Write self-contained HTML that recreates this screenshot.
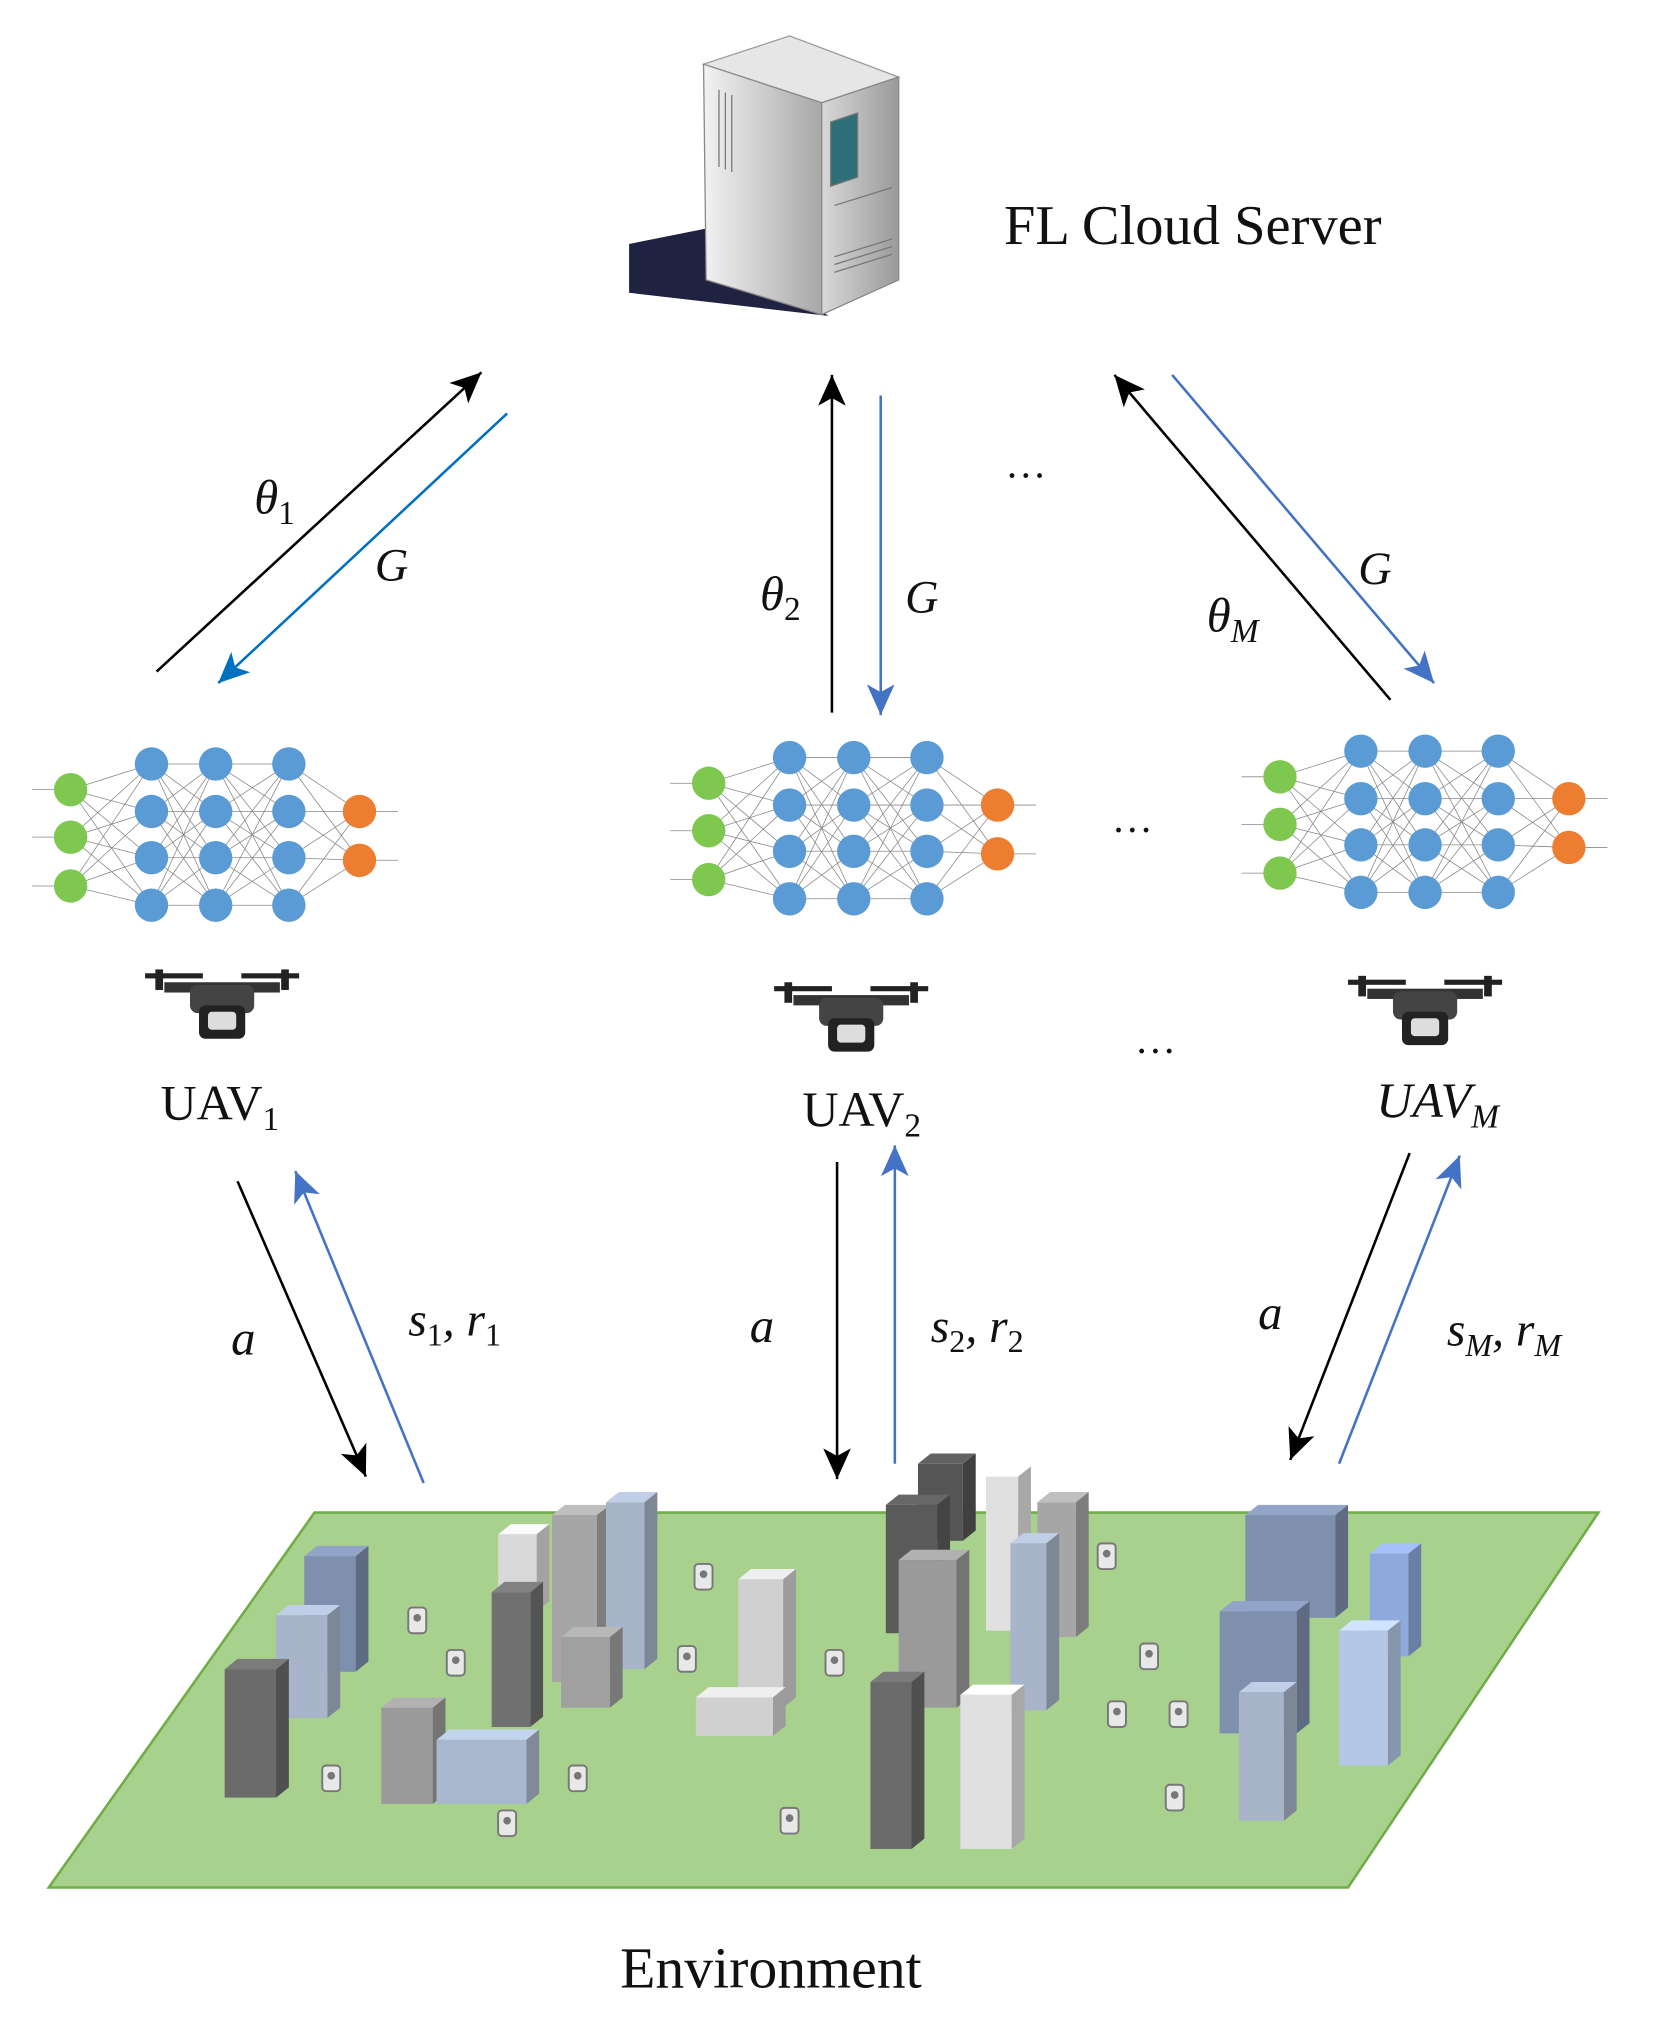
<!DOCTYPE html>
<html><head><meta charset="utf-8">
<style>
html,body{margin:0;padding:0;background:#fff;}
svg{display:block;}
text{font-family:"Liberation Serif",serif;fill:#111;}
.m{font-style:italic;}
</style></head>
<body>
<svg id="s" width="1669" height="2030" viewBox="0 0 1300 1581" preserveAspectRatio="none" xmlns="http://www.w3.org/2000/svg">
<defs>
<marker id="ak" viewBox="0 0 10 10" refX="10" refY="5" markerWidth="24" markerHeight="24" orient="auto-start-reverse" markerUnits="userSpaceOnUse"><path d="M0,0.5 L10,5 L0,9.5 L2.5,5 z" fill="#000"/></marker>
<marker id="ab" viewBox="0 0 10 10" refX="10" refY="5" markerWidth="24" markerHeight="24" orient="auto-start-reverse" markerUnits="userSpaceOnUse"><path d="M0,0.5 L10,5 L0,9.5 L2.5,5 z" fill="#4472c4"/></marker>
<marker id="ac" viewBox="0 0 10 10" refX="10" refY="5" markerWidth="24" markerHeight="24" orient="auto-start-reverse" markerUnits="userSpaceOnUse"><path d="M0,0.5 L10,5 L0,9.5 L2.5,5 z" fill="#0070c0"/></marker>
<linearGradient id="sf" x1="0" x2="1"><stop offset="0" stop-color="#f2f2f2"/><stop offset="1" stop-color="#a8a8a8"/></linearGradient>
<linearGradient id="ss" x1="0" x2="1"><stop offset="0" stop-color="#d8d8d8"/><stop offset="1" stop-color="#9a9a9a"/></linearGradient>
</defs>

<!-- server -->
<polygon points="490,190 560,176 645,246 490,228" fill="#1f2240"/>
<polygon points="548,50 615,28 700,60 640,80" fill="#e6e6e6" stroke="#999" stroke-width="1"/>
<polygon points="548,50 640,80 640,245 550,218" fill="url(#sf)" stroke="#888" stroke-width="1"/>
<polygon points="640,80 700,60 700,218 640,245" fill="url(#ss)" stroke="#888" stroke-width="1"/>
<polygon points="647,95 668,88 668,138 647,145" fill="#2f6f78" stroke="#777"/>
<g stroke="#777" stroke-width="1">
<line x1="560" y1="70" x2="560" y2="130"/><line x1="565" y1="72" x2="565" y2="132"/><line x1="570" y1="74" x2="570" y2="134"/>
<line x1="650" y1="200" x2="695" y2="186"/><line x1="650" y1="206" x2="695" y2="192"/><line x1="650" y1="212" x2="695" y2="198"/><line x1="650" y1="160" x2="695" y2="146"/>
</g>
<text x="782" y="190" font-size="44">FL Cloud Server</text>

<!-- top arrows -->
<line x1="122" y1="523" x2="375" y2="290" stroke="#000" stroke-width="2" marker-end="url(#ak)"/>
<line x1="395" y1="322" x2="170" y2="532" stroke="#0070c0" stroke-width="2" marker-end="url(#ac)"/>
<line x1="648" y1="555" x2="648" y2="292" stroke="#000" stroke-width="2" marker-end="url(#ak)"/>
<line x1="686" y1="308" x2="686" y2="557" stroke="#4472c4" stroke-width="2" marker-end="url(#ab)"/>
<line x1="1083" y1="545" x2="868" y2="292" stroke="#000" stroke-width="2" marker-end="url(#ak)"/>
<line x1="913" y1="292" x2="1117" y2="532" stroke="#4472c4" stroke-width="2" marker-end="url(#ab)"/>
<text x="198" y="400" font-size="38" class="m">θ<tspan font-size="26" dy="8" font-style="normal">1</tspan></text>
<text x="292" y="452" font-size="36" class="m">G</text>
<text x="592" y="475" font-size="38" class="m">θ<tspan font-size="26" dy="8" font-style="normal">2</tspan></text>
<text x="705" y="477" font-size="36" class="m">G</text>
<text x="1058" y="455" font-size="36" class="m">G</text>
<text x="940" y="492" font-size="38" class="m">θ<tspan font-size="26" dy="8">M</tspan></text>
<text x="783" y="372" font-size="32">…</text>
<text x="866" y="648" font-size="32">…</text>
<text x="884" y="820" font-size="32">…</text>

<g id="nets"></g>
<g id="drones"></g>

<text x="125" y="872" font-size="39">UAV<tspan font-size="26" dy="8">1</tspan></text>
<text x="625" y="877" font-size="39">UAV<tspan font-size="26" dy="8">2</tspan></text>
<text x="1072" y="870" font-size="39" class="m">UAV<tspan font-size="26" dy="8">M</tspan></text>

<!-- bottom arrows -->
<line x1="185" y1="920" x2="285" y2="1150" stroke="#000" stroke-width="2" marker-end="url(#ak)"/>
<line x1="330" y1="1155" x2="230" y2="912" stroke="#4472c4" stroke-width="2" marker-end="url(#ab)"/>
<line x1="652" y1="905" x2="652" y2="1152" stroke="#000" stroke-width="2" marker-end="url(#ak)"/>
<line x1="697" y1="1140" x2="697" y2="892" stroke="#4472c4" stroke-width="2" marker-end="url(#ab)"/>
<line x1="1098" y1="898" x2="1005" y2="1137" stroke="#000" stroke-width="2" marker-end="url(#ak)"/>
<line x1="1043" y1="1140" x2="1137" y2="900" stroke="#4472c4" stroke-width="2" marker-end="url(#ab)"/>
<text x="180" y="1055" font-size="38" class="m">a</text>
<text x="318" y="1040" font-size="37" class="m">s<tspan font-size="25" dy="8" font-style="normal">1</tspan><tspan dy="-8">, r</tspan><tspan font-size="25" dy="8" font-style="normal">1</tspan></text>
<text x="584" y="1045" font-size="38" class="m">a</text>
<text x="725" y="1045" font-size="37" class="m">s<tspan font-size="25" dy="8" font-style="normal">2</tspan><tspan dy="-8">, r</tspan><tspan font-size="25" dy="8" font-style="normal">2</tspan></text>
<text x="980" y="1035" font-size="38" class="m">a</text>
<text x="1127" y="1048" font-size="37" class="m">s<tspan font-size="25" dy="8">M</tspan><tspan dy="-8">, r</tspan><tspan font-size="25" dy="8">M</tspan></text>

<!-- ground -->
<polygon points="245,1178 1245,1178 1050,1470 38,1470" fill="#a9d18e" stroke="#70ad47" stroke-width="2"/>
<g id="city"></g>

<text x="483" y="1548" font-size="45">Environment</text>
</svg>
<script>
var NS="http://www.w3.org/2000/svg";
function el(p,t,a){var e=document.createElementNS(NS,t);for(var k in a)e.setAttribute(k,a[k]);p.appendChild(e);return e;}
function shade(hex,f){var n=parseInt(hex.slice(1),16),r=n>>16,g=(n>>8)&255,b=n&255;r=Math.min(255,Math.round(r*f));g=Math.min(255,Math.round(g*f));b=Math.min(255,Math.round(b*f));return "rgb("+r+","+g+","+b+")";}
var nets=document.getElementById("nets");
[[0,0],[497,-5],[942,-10]].forEach(function(o){
 var dx=o[0],dy=o[1];
 var cols=[{x:55,ys:[615,652,690],c:"#7ec850"},{x:118,ys:[595,632,668,705],c:"#5b9bd5"},{x:168,ys:[595,632,668,705],c:"#5b9bd5"},{x:225,ys:[595,632,668,705],c:"#5b9bd5"},{x:280,ys:[632,670],c:"#ed7d31"}];
 for(var i=0;i<cols.length-1;i++){cols[i].ys.forEach(function(a){cols[i+1].ys.forEach(function(b){el(nets,"line",{x1:cols[i].x+dx,y1:a+dy,x2:cols[i+1].x+dx,y2:b+dy,stroke:"#888","stroke-width":0.6});});});}
 cols[0].ys.forEach(function(y){el(nets,"line",{x1:25+dx,y1:y+dy,x2:55+dx,y2:y+dy,stroke:"#888","stroke-width":0.6});});
 cols[4].ys.forEach(function(y){el(nets,"line",{x1:280+dx,y1:y+dy,x2:310+dx,y2:y+dy,stroke:"#888","stroke-width":0.6});});
 cols.forEach(function(c){c.ys.forEach(function(y){el(nets,"circle",{cx:c.x+dx,cy:y+dy,r:13,fill:c.c});});});
});
var dr=document.getElementById("drones");
[[173,785],[663,795],[1110,790]].forEach(function(p){
 var x=p[0],y=p[1];
 el(dr,"rect",{x:x-60,y:y-27,width:45,height:4,fill:"#222"});
 el(dr,"rect",{x:x+15,y:y-27,width:45,height:4,fill:"#222"});
 el(dr,"rect",{x:x-52,y:y-30,width:6,height:16,fill:"#222"});
 el(dr,"rect",{x:x+46,y:y-30,width:6,height:16,fill:"#222"});
 el(dr,"rect",{x:x-45,y:y-20,width:90,height:8,fill:"#333"});
 el(dr,"rect",{x:x-25,y:y-18,width:50,height:22,rx:6,fill:"#444"});
 el(dr,"rect",{x:x-18,y:y-2,width:36,height:26,rx:5,fill:"#222"});
 el(dr,"rect",{x:x-11,y:y+3,width:22,height:14,rx:3,fill:"#ddd"});
});
var city=document.getElementById("city");
var P=[[325,1262],[355,1295],[548,1228],[535,1292],[650,1295],[862,1212],[895,1290],[870,1335],[918,1335],[258,1385],[450,1385],[395,1420],[615,1418],[915,1400]];
P.forEach(function(p){el(city,"rect",{x:p[0]-7,y:p[1]-10,width:14,height:20,rx:3,fill:"#e8e8e8",stroke:"#777","stroke-width":1.5});el(city,"circle",{cx:p[0],cy:p[1]-2,r:3,fill:"#777"});});
var B=[[237,1212,40,90,"#7f8fae"],[215,1258,40,80,"#a7b4c9"],[175,1300,40,100,"#6b6b6b"],[388,1195,30,60,"#d9d9d9"],[430,1180,35,130,"#a6a6a6"],[472,1170,30,130,"#a7b4c9"],[383,1240,30,105,"#707070"],[437,1275,38,55,"#a0a0a0"],[297,1330,40,75,"#9a9a9a"],[340,1355,70,50,"#aab8cf"],
[575,1230,35,100,"#d0d0d0"],[542,1322,60,30,"#d0d0d0"],[715,1140,35,60,"#555555"],[690,1172,40,100,"#5a5a5a"],[808,1170,30,105,"#a6a6a6"],[768,1150,25,120,"#e0e0e0"],[700,1215,45,115,"#9a9a9a"],[787,1202,28,130,"#a7b4c9"],[678,1310,32,130,"#6b6b6b"],[748,1320,40,120,"#e0e0e0"],
[970,1180,70,80,"#7f8fae"],[950,1255,60,95,"#7f8fae"],[1067,1210,30,80,"#8ea9db"],[1043,1270,38,105,"#b4c7e7"],[965,1318,35,100,"#a7b4c9"]];
B.forEach(function(b){var x=b[0],y=b[1],w=b[2],h=b[3],c=b[4],d=10,u=8;
 el(city,"polygon",{points:[x,y,x+d,y-u,x+w+d,y-u,x+w,y].join(","),fill:shade(c,1.15)});
 el(city,"polygon",{points:[x+w,y,x+w+d,y-u,x+w+d,y+h-u,x+w,y+h].join(","),fill:shade(c,0.75)});
 el(city,"rect",{x:x,y:y,width:w,height:h,fill:c});
});
</script>
</body></html>
